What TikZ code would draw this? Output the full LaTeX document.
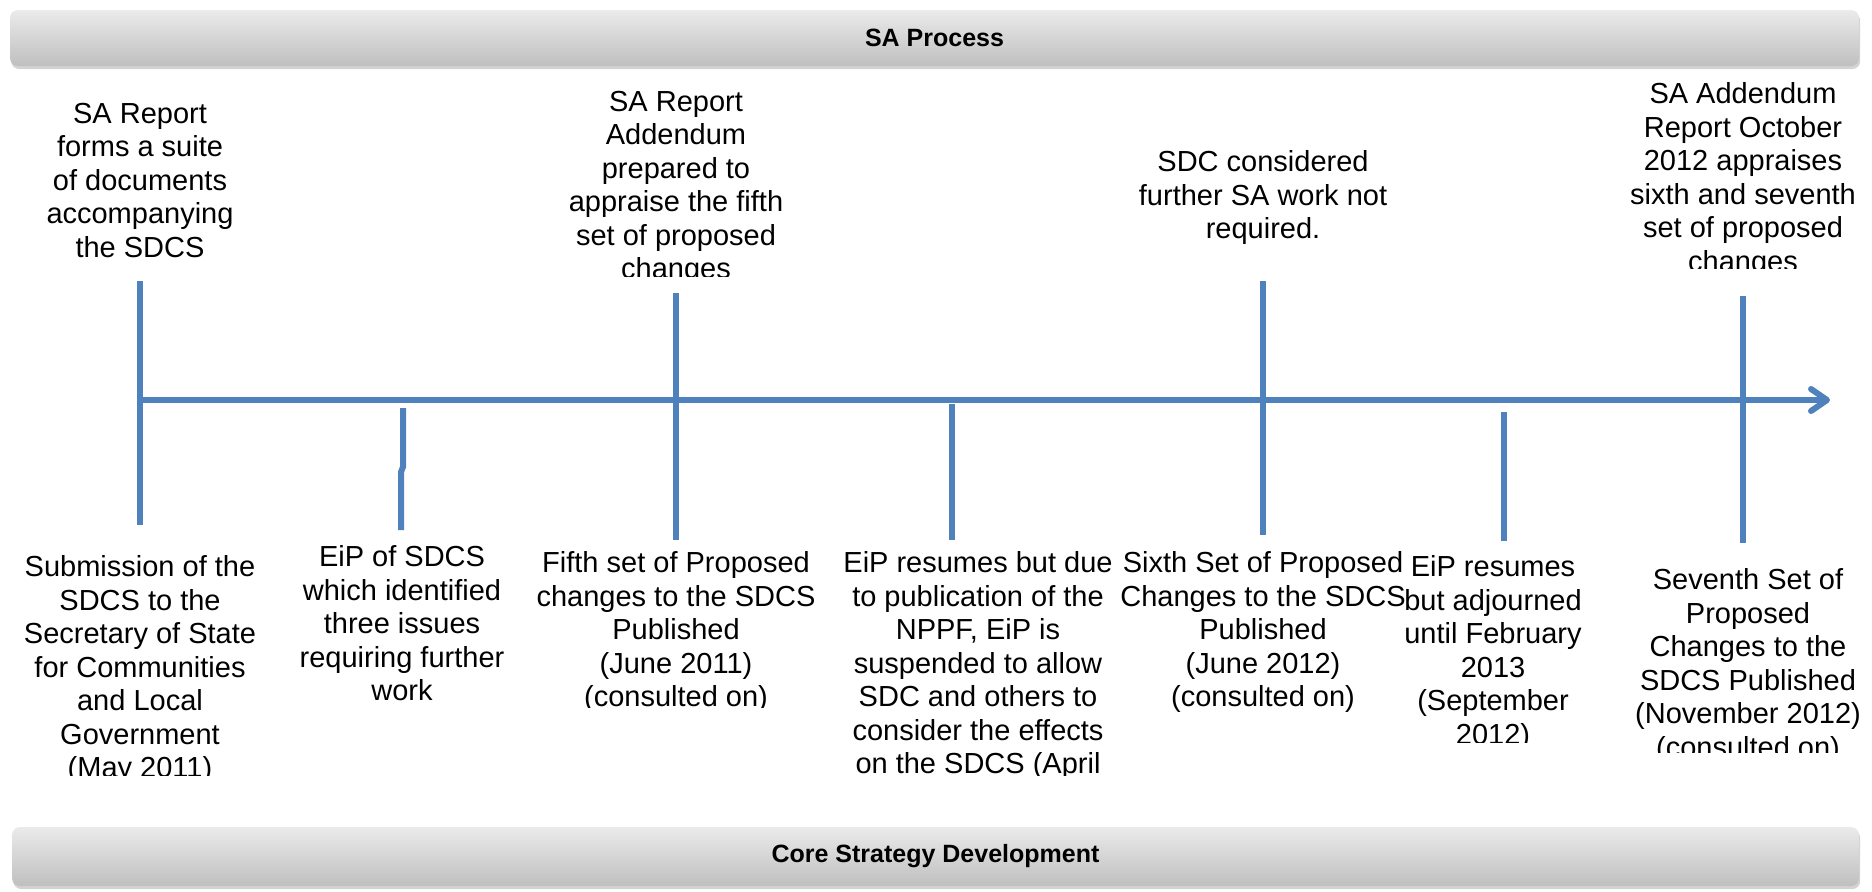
\documentclass[tikz,border=0pt]{standalone}
\usepackage{fontspec}
\setmainfont{Liberation Sans}
\usetikzlibrary{arrows.meta,shadows}

\definecolor{tlblue}{RGB}{79,129,189}

\tikzset{every picture/.style={line width=0.75pt}}
\tikzset{
  tlline/.style={draw=tlblue, line width=3pt},
  evtxt/.style={anchor=north, align=center, inner sep=0pt, font=\fontsize{14.5}{16.75}\selectfont},
  barbox/.style={rounded corners=4pt, top color=black!8, bottom color=black!25, draw=none,
    drop shadow={opacity=0.35, shadow xshift=0.6pt, shadow yshift=-1.5pt},
    font=\fontsize{12.5}{14}\selectfont\bfseries}
}

\begin{document}
\begin{tikzpicture}[x=0.5pt,y=0.5pt,yscale=-1,xscale=1]
\useasboundingbox (0,0) rectangle (1872,891);

% Title bars
\node[barbox, minimum width=924.5pt, minimum height=28pt] (saproc) at (934.5,38) {SA Process};
\node[barbox, minimum width=923.5pt, minimum height=29.5pt] (coredev) at (935.5,856.5) {Core Strategy Development};

%Time line
\coordinate (tlstart) at (140,400);
\coordinate (tlend) at (1830,400);
\draw [tlline, -{Straight Barb[length=8pt,width=11pt,round]}] (tlstart) -- (tlend) ;

%Straight Lines
\draw [tlline] (140,281) -- (140,525) ;
%Straight Lines
\draw [tlline] (403,408) -- (403,467) -- (401,472) -- (401,530) ;
%Straight Lines
\draw [tlline] (676,293) -- (676,540) ;
%Straight Lines
\draw [tlline] (952,404) -- (952,540) ;
%Straight Lines
\draw [tlline] (1263,281) -- (1263,535) ;
%Straight Lines
\draw [tlline] (1504,412) -- (1504,541) ;
%Straight Lines
\draw [tlline] (1743,296) -- (1743,543) ;

% Text Node
\node [evtxt] (sarep) at (140,102) {SA Report\\forms a suite\\of documents\\accompanying\\the SDCS};
% Text Node
\begin{scope}
\clip (0,0) rectangle (1872,276);
\node [evtxt] (addfive) at (676,90) {SA Report\\Addendum\\prepared to\\appraise the fifth\\set of proposed\\changes};
\end{scope}
% Text Node
\begin{scope}
\clip (0,0) rectangle (1872,268);
\node [evtxt] (addsix) at (1743,82) {SA Addendum\\Report October\\2012 appraises\\sixth and seventh\\set of proposed\\changes};
\end{scope}
% Text Node
\node [evtxt] (nowork) at (1263,150) {SDC considered\\further SA work not\\required.};

% Text Node
\begin{scope}
\clip (0,0) rectangle (1872,775);
\node [evtxt] (submit) at (140,555) {Submission of the\\SDCS to the\\Secretary of State\\for Communities\\and Local\\Government\\(May 2011)};
\node [evtxt] (suspend) at (978,551) {EiP resumes but due\\to publication of the\\NPPF, EiP is\\suspended to allow\\SDC and others to\\consider the effects\\on the SDCS (April};
\end{scope}
% Text Node
\node [evtxt] (eipone) at (402,545) {EiP of SDCS\\which identified\\three issues\\requiring further\\work};
% Text Node
\begin{scope}
\clip (0,0) rectangle (1872,707);
\node [evtxt] (fifth) at (676,551) {Fifth set of Proposed\\changes to the SDCS\\Published\\(June 2011)\\(consulted on)};
\end{scope}
% Text Node
\node [evtxt] (sixth) at (1263,551) {Sixth Set of Proposed\\Changes to the SDCS\\Published\\(June 2012)\\(consulted on)};
% Text Node
\begin{scope}
\clip (0,0) rectangle (1872,742);
\node [evtxt] (adjourn) at (1493,555) {EiP resumes\\but adjourned\\until February\\2013\\(September\\2012)};
\end{scope}
% Text Node
\begin{scope}
\clip (0,0) rectangle (1872,752);
\node [evtxt] (seventh) at (1748,568) {Seventh Set of\\Proposed\\Changes to the\\SDCS Published\\(November 2012)\\(consulted on)};
\end{scope}

\end{tikzpicture}
\end{document}
